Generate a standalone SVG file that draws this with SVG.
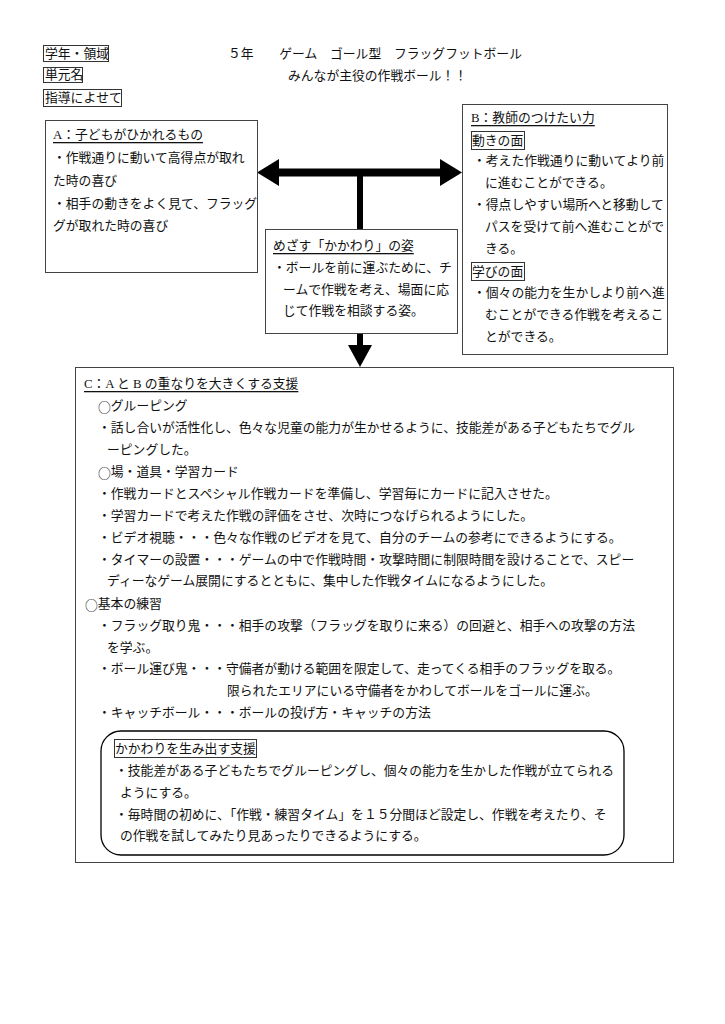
<svg xmlns="http://www.w3.org/2000/svg" width="725" height="1024" viewBox="0 0 725 1024">
<style>
text{font-family:"Liberation Serif","Noto Sans CJK JP",serif;font-size:12.8px;fill:#111;dominant-baseline:central}
.box{fill:#fff;stroke:#444;stroke-width:1}
.lbl{fill:none;stroke:#333;stroke-width:1}
.u{text-decoration:underline}
.cjk{font-family:"Noto Sans CJK JP",sans-serif}
</style>
<rect width="725" height="1024" fill="#fff"/>
<g id="header">
<rect class="lbl" x="43.5" y="45.5" width="65" height="16"/>
<text x="45" y="53.5">学年・領域</text>
<rect class="lbl" x="43.5" y="67.5" width="39" height="15"/>
<text x="45" y="75">単元名</text>
<rect class="lbl" x="43.5" y="89.5" width="78" height="17"/>
<text x="45" y="98">指導によせて</text>
<text x="228" y="53.5">５年　　ゲーム　ゴール型　フラッグフットボール</text>
<text x="288" y="76">みんなが主役の作戦ボール！！</text>
</g>
<g id="connectors" fill="#000">
<rect x="278" y="168.5" width="164" height="8"/>
<polygon points="257,172.5 279,159 279,186"/>
<polygon points="462,172.5 440,159 440,186"/>
<rect x="357" y="172" width="6" height="57"/>
<rect x="357" y="333" width="6" height="14"/>
<polygon points="348,345 372,345 360,367"/>
</g>
<g id="nodeA">
<rect class="box" x="45.5" y="120.5" width="212" height="152"/>
<text class="u" x="53" y="135">A：子どもがひかれるもの</text>
<text x="53" y="158">・作戦通りに動いて高得点が取れ</text>
<text x="53" y="181">た時の喜び</text>
<text x="53" y="204">・相手の動きをよく見て、フラッグ</text>
<text x="53" y="226">グが取れた時の喜び</text>
</g>
<g id="nodeB">
<rect class="box" x="462.5" y="104.5" width="205" height="250"/>
<text class="u" x="471" y="118">B：教師のつけたい力</text>
<rect class="lbl" x="471.5" y="131.5" width="53" height="18"/>
<text x="472" y="140.5">動きの面</text>
<text x="473" y="161">・考えた作戦通りに動いてより前</text>
<text x="485" y="183">に進むことができる。</text>
<text x="473" y="205">・得点しやすい場所へと移動して</text>
<text x="485" y="227">パスを受けて前へ進むことがで</text>
<text x="485" y="249">きる。</text>
<rect class="lbl" x="471.5" y="262.5" width="53" height="18"/>
<text x="472" y="271.5">学びの面</text>
<text x="473" y="293">・個々の能力を生かしより前へ進</text>
<text x="485" y="315">むことができる作戦を考えるこ</text>
<text x="485" y="337">とができる。</text>
</g>
<g id="nodeMid">
<rect class="box" x="265.5" y="229.5" width="192" height="104"/>
<text class="u" x="273" y="246">めざす「かかわり」の姿</text>
<text x="273" y="268">・ボールを前に運ぶために、チ</text>
<text x="283" y="290">ームで作戦を考え、場面に応</text>
<text x="283" y="311">じて作戦を相談する姿。</text>
</g>
<g id="nodeC">
<rect class="box" x="75.5" y="367.5" width="598" height="495"/>
<text class="u" x="84" y="384">C：A と B の重なりを大きくする支援</text>
<text x="98" y="406"><tspan class="cjk">○</tspan>グルーピング</text>
<text x="98" y="428">・話し合いが活性化し、色々な児童の能力が生かせるように、技能差がある子どもたちでグル</text>
<text x="107" y="450">ーピングした。</text>
<text x="98" y="472"><tspan class="cjk">○</tspan>場・道具・学習カード</text>
<text x="98" y="494">・作戦カードとスペシャル作戦カードを準備し、学習毎にカードに記入させた。</text>
<text x="98" y="516">・学習カードで考えた作戦の評価をさせ、次時につなげられるようにした。</text>
<text x="98" y="538">・ビデオ視聴・・・色々な作戦のビデオを見て、自分のチームの参考にできるようにする。</text>
<text x="98" y="560">・タイマーの設置・・・ゲームの中で作戦時間・攻撃時間に制限時間を設けることで、スピー</text>
<text x="107" y="581">ディーなゲーム展開にするとともに、集中した作戦タイムになるようにした。</text>
<text x="85" y="604"><tspan class="cjk">○</tspan>基本の練習</text>
<text x="98" y="626">・フラッグ取り鬼・・・相手の攻撃（フラッグを取りに来る）の回避と、相手への攻撃の方法</text>
<text x="107" y="648">を学ぶ。</text>
<text x="98" y="669">・ボール運び鬼・・・守備者が動ける範囲を限定して、走ってくる相手のフラッグを取る。</text>
<text x="227" y="691">限られたエリアにいる守備者をかわしてボールをゴールに運ぶ。</text>
<text x="98" y="713">・キャッチボール・・・ボールの投げ方・キャッチの方法</text>
</g>
<g id="nodeSupport">
<rect x="101" y="731" width="523" height="124" rx="20" ry="20" fill="none" stroke="#000" stroke-width="1.3"/>
<rect class="lbl" x="114.5" y="739.5" width="142" height="18"/>
<text x="115" y="748.5">かかわりを生み出す支援</text>
<text x="115" y="771">・技能差がある子どもたちでグルーピングし、個々の能力を生かした作戦が立てられる</text>
<text x="120" y="793">ようにする。</text>
<text x="115" y="815">・毎時間の初めに、「作戦・練習タイム」を１５分間ほど設定し、作戦を考えたり、そ</text>
<text x="120" y="836">の作戦を試してみたり見あったりできるようにする。</text>
</g>
</svg>
